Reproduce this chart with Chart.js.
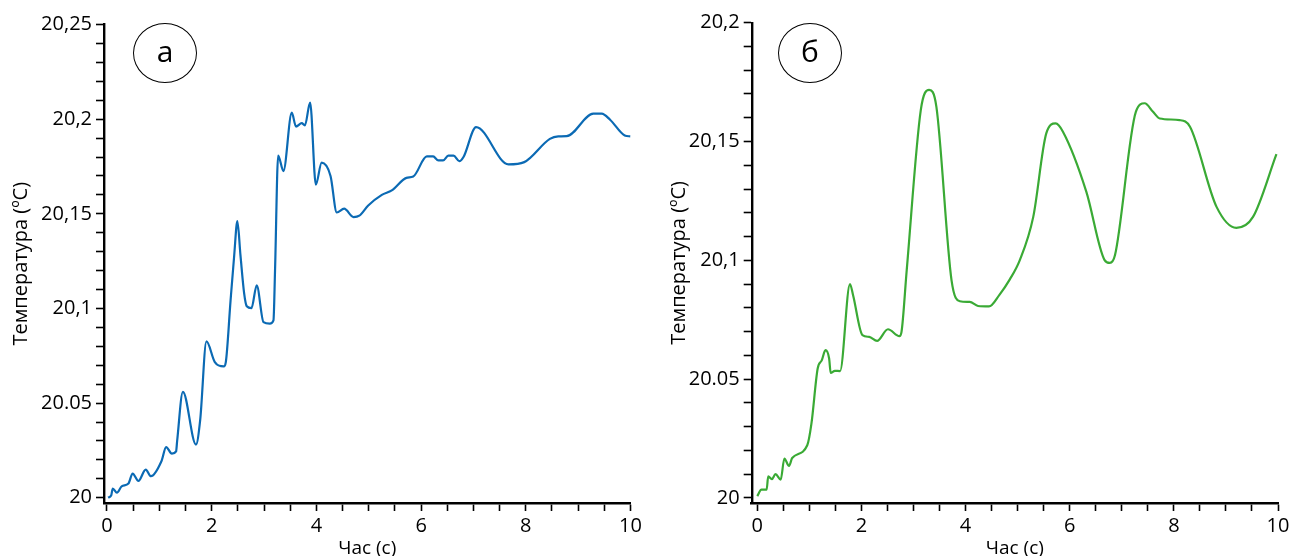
<!DOCTYPE html>
<html>
<head>
<meta charset="utf-8">
<script src="https://cdn.jsdelivr.net/npm/chart.js@4/dist/chart.umd.min.js"></script>
<style>
  html, body { margin: 0; padding: 0; background: #fff; }
  body { width: 1290px; height: 556px; position: relative; overflow: hidden; font-family: 'Open Sans', sans-serif; }
  .panel { position: absolute; top: 0; width: 645px; height: 556px; }
  .badge {
    position: absolute; width: 64px; height: 60px; border: 1.3px solid #000; border-radius: 50%;
    font: 30px 'Open Sans', sans-serif; color: #000; display: flex; align-items: center; justify-content: center;
    line-height: 1; padding-bottom: 4px; box-sizing: border-box;
  }
</style>
</head>
<body>
<div class="panel" style="left:0"><canvas id="chartA"></canvas></div>
<div class="panel" style="left:645px; width:655px"><canvas id="chartB"></canvas></div>
<div class="badge" style="left:133px; top:23px;">а</div>
<div class="badge" style="left:778px; top:23px;">б</div>
<script>
// panel а
const timeA = [0.02, 0.08, 0.11, 0.19, 0.28, 0.41, 0.49, 0.60, 0.74, 0.84, 1.04, 1.13, 1.24, 1.32, 1.34,
  1.45, 1.70, 1.78, 1.90, 2.06, 2.23, 2.27, 2.36, 2.43, 2.49, 2.55, 2.62, 2.67, 2.76, 2.86, 2.99, 3.11,
  3.18, 3.21, 3.27, 3.37, 3.53, 3.61, 3.72, 3.78, 3.88, 3.99, 4.10, 4.27, 4.39, 4.53, 4.71, 4.82, 4.99,
  5.25, 5.44, 5.72, 5.85, 6.11, 6.23, 6.33, 6.42, 6.52, 6.62, 6.73, 6.81, 7.05, 7.67, 7.97, 8.46, 8.62,
  8.78, 9.29, 9.45, 9.61, 9.89, 10.0];
const tempA = [20.0001, 20.0012, 20.0049, 20.0027, 20.0060, 20.0075, 20.0128, 20.0089, 20.0149, 20.0114,
  20.0193, 20.0268, 20.0233, 20.0245, 20.0300, 20.0560, 20.0281, 20.0410, 20.0826, 20.0717, 20.0694,
  20.0717, 20.1040, 20.1280, 20.1461, 20.1280, 20.1080, 20.1012, 20.1002, 20.1122, 20.0928, 20.0920,
  20.0937, 20.1200, 20.1808, 20.1726, 20.2034, 20.1961, 20.1979, 20.1967, 20.2087, 20.1654, 20.1770,
  20.1700, 20.1507, 20.1527, 20.1483, 20.1490, 20.1544, 20.1600, 20.1624, 20.1690, 20.1697, 20.1803,
  20.1803, 20.1782, 20.1782, 20.1807, 20.1807, 20.1778, 20.1800, 20.1958, 20.1761, 20.1773, 20.1896,
  20.1909, 20.1910, 20.2029, 20.2029, 20.1997, 20.1914, 20.1909];
const yMajorA = [20, 20.05, 20.1, 20.15, 20.2, 20.25];
const yLabelsA = ['20', '20.05', '20,1', '20,15', '20,2', '20,25'];

// panel б
const timeB = [0, 0.08, 0.18, 0.21, 0.28, 0.35, 0.45, 0.52, 0.61, 0.67, 0.96, 1.04, 1.16, 1.24, 1.31,
  1.38, 1.41, 1.49, 1.59, 1.78, 1.84, 2.02, 2.15, 2.30, 2.51, 2.73, 2.77, 2.87, 3.14, 3.30, 3.44, 3.73,
  3.89, 4.08, 4.24, 4.45, 4.65, 4.85, 5.04, 5.30, 5.55, 5.73, 5.87, 6.32, 6.67, 6.77, 6.87, 7.27, 7.44,
  7.60, 7.73, 8.11, 8.31, 8.82, 9.20, 9.52, 9.97];
const tempB = [20.0008, 20.0035, 20.0035, 20.0091, 20.0079, 20.0100, 20.0077, 20.0166, 20.0135, 20.0168,
  20.0222, 20.0313, 20.0545, 20.0580, 20.0622, 20.0587, 20.0526, 20.0535, 20.0534, 20.0900, 20.0853,
  20.0685, 20.0678, 20.0661, 20.0710, 20.0681, 20.0699, 20.0959, 20.1632, 20.1717, 20.1646, 20.0917,
  20.0828, 20.0825, 20.0808, 20.0806, 20.0855, 20.0920, 20.1000, 20.1183, 20.1534, 20.1576, 20.1541,
  20.1288, 20.1001, 20.0989, 20.1022, 20.1625, 20.1661, 20.1625, 20.1597, 20.1590, 20.1562, 20.1225,
  20.1137, 20.1183, 20.1447];
const yMajorB = [20, 20.05, 20.1, 20.15, 20.2];
const yLabelsB = ['20', '20.05', '20,1', '20,15', '20,2'];

const xMajor = [0, 2, 4, 6, 8, 10];
const xLabels = ['0', '2', '4', '6', '8', '10'];

const FONT = "'Open Sans', sans-serif";

function steps(from, to, step) {
  const out = [];
  for (let v = from; v <= to + step / 2; v += step) out.push(Math.round(v * 1000) / 1000);
  return out;
}

function labelFor(majors, labels, value) {
  const i = majors.findIndex(m => Math.abs(m - value) < 1e-6);
  return i >= 0 ? labels[i] : '';
}

function makeChart(id, times, temps, color, cfg) {
  const ctx = document.getElementById(id).getContext('2d');
  return new Chart(ctx, {
    type: 'line',
    data: {
      datasets: [{
        data: times.map((t, i) => ({ x: t, y: temps[i] })),
        borderColor: color,
        borderWidth: 2.2,
        pointRadius: 0,
        cubicInterpolationMode: 'monotone',
        fill: false
      }]
    },
    options: {
      responsive: true,
      maintainAspectRatio: false,
      animation: false,
      layout: { padding: { top: cfg.top, right: cfg.right, left: 0, bottom: 0 } },
      plugins: { legend: { display: false }, tooltip: { enabled: false } },
      scales: {
        x: {
          type: 'linear',
          min: cfg.xMin,
          max: 10,
          afterBuildTicks: s => { s.ticks = steps(0, 10, 0.5).map(v => ({ value: v })); },
          afterFit: s => { s.height = 53; },
          grid: { drawOnChartArea: false, tickLength: 8, tickColor: '#000', tickWidth: 1.6 },
          border: { display: true, color: '#000', width: 2.6 },
          ticks: {
            autoSkip: false, maxRotation: 0, padding: 3, color: '#000',
            font: { family: FONT, size: 20 },
            callback: v => labelFor(xMajor, xLabels, v)
          },
          title: {
            display: true, text: 'Час (с)', color: '#000',
            font: { family: FONT, size: 19 }, padding: { top: 0, bottom: -4 }
          }
        },
        y: {
          type: 'linear',
          min: cfg.yMin,
          max: cfg.yMax,
          afterBuildTicks: s => { s.ticks = steps(20, cfg.yMax, 0.01).map(v => ({ value: v })); },
          afterFit: s => { s.width = cfg.yWidth; },
          grid: { drawOnChartArea: false, tickLength: 8, tickColor: '#000', tickWidth: 1.6 },
          border: { display: true, color: '#000', width: 2.4 },
          ticks: {
            autoSkip: false, padding: 4, color: '#000',
            font: { family: FONT, size: 20 },
            callback: v => labelFor(cfg.yMajor, cfg.yLabels, v)
          },
          title: {
            display: true, text: 'Температура (ºC)', color: '#000',
            font: { family: FONT, size: 20 }, padding: { top: cfg.titlePad, bottom: 0 }
          }
        }
      }
    }
  });
}

document.addEventListener('DOMContentLoaded', () => {
  makeChart('chartA', timeA, tempA, '#0b6ab4', {
    top: 24.5, right: 14.5, xMin: -0.057, yMin: 19.99725, yMax: 20.25, yWidth: 104, titlePad: 9,
    yMajor: yMajorA, yLabels: yLabelsA
  });
  makeChart('chartB', timeB, tempB, '#3aaa35', {
    top: 22.7, right: 22, xMin: -0.107, yMin: 19.99789, yMax: 20.2, yWidth: 106.7, titlePad: 22,
    yMajor: yMajorB, yLabels: yLabelsB
  });
});
</script>
</body>
</html>
